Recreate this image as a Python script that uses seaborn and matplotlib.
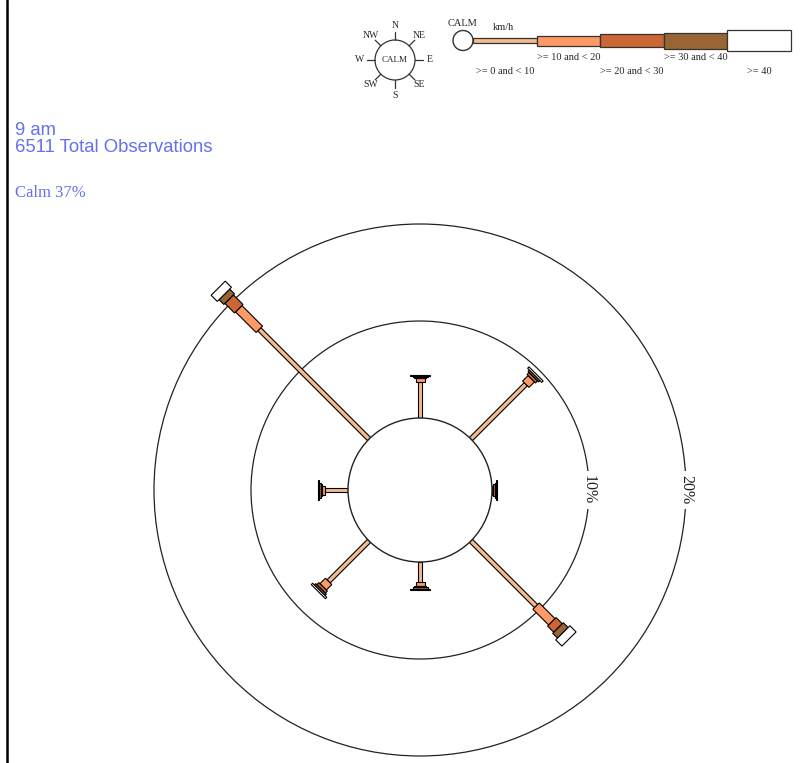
import numpy as np
import pandas as pd
import seaborn as sns
import matplotlib.pyplot as plt
from matplotlib.patches import Circle, Polygon, Rectangle

# wind rose data, 9 am
directions = ["N", "NE", "E", "SE", "S", "SW", "W", "NW"]
angles = [0, 45, 90, 135, 180, 225, 270, 315]
speed_classes = [">= 0 and < 10", ">= 10 and < 20", ">= 20 and < 30", ">= 30 and < 40", ">= 40"]
pct_0_10 = [3.7, 8.0, 0.05, 9.5, 2.1, 5.9, 2.4, 16.0]
pct_10_20 = [0.4, 0.8, 0.1, 2.3, 0.4, 0.8, 0.3, 3.0]
pct_20_30 = [0.12, 0.3, 0.12, 0.9, 0.12, 0.3, 0.12, 1.4]
pct_30_40 = [0.12, 0.2, 0.12, 0.7, 0.12, 0.2, 0.12, 0.7]
pct_40 = [0.12, 0.2, 0.12, 0.9, 0.12, 0.2, 0.12, 0.9]
calm_pct = 37
total_obs = 6511
ring_levels = [10, 20]

sns.set_theme(style="white")
plt.rcParams["font.family"] = ["Liberation Serif", "DejaVu Serif"]
colors = sns.color_palette(["#f5bb8c", "#ff9966", "#cc6633", "#996633", "#ffffff"])
widths_px = [4.5, 9, 12, 15, 20]   # bar thickness for each speed class

df = pd.DataFrame({"dir": directions, "angle": angles})
for cls, vals in zip(speed_classes, [pct_0_10, pct_10_20, pct_20_30, pct_30_40, pct_40]):
    df[cls] = vals

W, H = 806, 763
PX = 9.7                 # pixels per percent
CALM_R = 72 / PX         # calm circle radius in percent units
cx, cy = 420, 490        # rose centre in pixels
R = 275

fig = plt.figure(figsize=(W / 100, H / 100), dpi=100)
hax = fig.add_axes([0, 0, 1, 1])
hax.set_xlim(0, W)
hax.set_ylim(H, 0)
hax.axis("off")

ax = fig.add_axes([(cx - R) / W, (H - cy - R) / H, 2 * R / W, 2 * R / H])
ax.set_xlim(-R / PX, R / PX)
ax.set_ylim(-R / PX, R / PX)
ax.set_facecolor("none")
ax.axis("off")

# rings
for lvl in ring_levels:
    ax.add_patch(Circle((0, 0), CALM_R + lvl, fill=False, ec="#222222", lw=0.9, clip_on=False))
    ax.text(CALM_R + lvl, 0, f"{lvl}%", rotation=270, ha="center", va="center",
            fontsize=11.5, color="#222222", clip_on=False,
            bbox=dict(fc="white", ec="none", pad=3))

# arms
for _, row in df.iterrows():
    th = np.radians(row["angle"])
    u = np.array([np.sin(th), np.cos(th)])
    n = np.array([np.cos(th), -np.sin(th)])
    r0 = CALM_R
    for cls, col, wpx in zip(speed_classes, colors, widths_px):
        r1 = r0 + row[cls]
        hw = wpx / PX / 2
        pts = [u * r0 + n * hw, u * r1 + n * hw, u * r1 - n * hw, u * r0 - n * hw]
        ax.add_patch(Polygon(pts, closed=True, fc=col, ec="black", lw=0.8, clip_on=False))
        r0 = r1

ax.add_patch(Circle((0, 0), CALM_R, fc="white", ec="#222222", lw=1.0, zorder=5))

# header text
blue = "#6470ee"
hax.text(15, 135, "9 am", color=blue, fontsize=13.3, family="Liberation Sans")
hax.text(15, 152, f"{total_obs} Total Observations", color=blue, fontsize=13.3, family="Liberation Sans")
hax.text(15, 197, f"Calm {calm_pct}%", color=blue, fontsize=12)

# left border
hax.plot([7, 7], [0, H], color="black", lw=1.8)

# compass key
kx, ky, kr = 395, 60, 20
hax.add_patch(Circle((kx, ky), kr, fc="white", ec="#333333", lw=0.9))
hax.text(kx, ky, "CALM", ha="center", va="center", fontsize=6.5)
for d, a in zip(directions, angles):
    t = np.radians(a)
    hax.plot([kx + kr * np.sin(t), kx + 28 * np.sin(t)],
             [ky - kr * np.cos(t), ky - 28 * np.cos(t)], color="#333333", lw=0.9)
    lr = 35 if a % 90 == 0 else 34
    hax.text(kx + lr * np.sin(t), ky - lr * np.cos(t), d, ha="center", va="center", fontsize=7)

# speed key
bx0, by, seg = 473, 40.5, 63.6
hax.add_patch(Circle((463, by), 10, fc="white", ec="#333333", lw=1.0))
hax.text(462, 23, "CALM", ha="center", va="center", fontsize=7.5)
hax.text(503, 27, "km/h", ha="center", va="center", fontsize=7.5)
for i, (cls, col, wpx) in enumerate(zip(speed_classes, colors, widths_px)):
    x0 = bx0 + i * seg
    hax.add_patch(Rectangle((x0, by - wpx / 2 - 0.5), seg, wpx + 1, fc=col, ec="#333333", lw=0.9))
    hax.text(x0 + seg / 2, 58 if i % 2 else 71, cls, ha="center", va="center", fontsize=7.5)

fig.savefig("out.png", dpi=100)
